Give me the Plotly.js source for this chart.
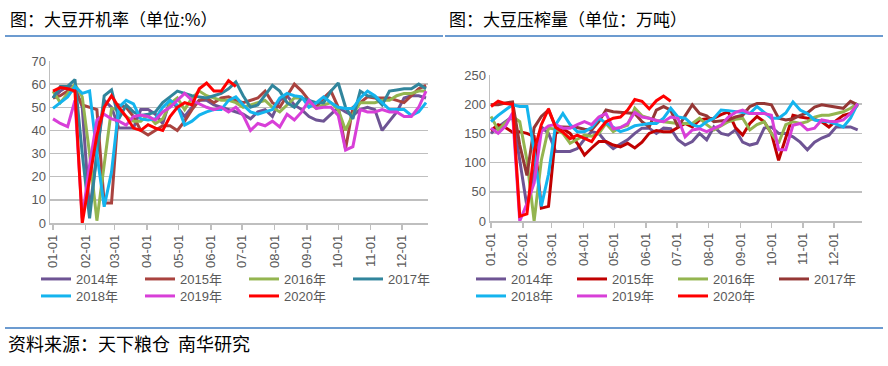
<!DOCTYPE html>
<html>
<head>
<meta charset="utf-8">
<script src="https://cdn.plot.ly/plotly-3.0.1.min.js"></script>
<style>html,body{margin:0;padding:0;background:#fff;}#chart{width:888px;height:366px;}</style>
</head>
<body>
<div id="chart"></div>
<script>
// ---------- DATA ----------
const seriesNames = ['2014年','2015年','2016年','2017年','2018年','2019年','2020年'];
const monthTicks = ['01-01','02-01','03-01','04-01','05-01','06-01','07-01','08-01','09-01','10-01','11-01','12-01'];

// 大豆开机率 (%) weekly
const rate2014 = [54,57,59,59,50,5,30,53,50,41,41,41,49,49,47,43,53,50,46,50,53,53,51,50,49,48,47,45,48,49,46,53,55,51,49,46,44.5,44,47,50,48,46.5,49,50,49,40,44,48,54,55,55,54];
const rate2015 = [54,55,57,57,51,50,49,8.6,8.6,51,50,46,40,38,40,42,42,40,44,49,53,54,52,54,54.5,53,52,53,54,57,52,50,55,60,57,53,50,54,57,50,32,50,52,54.5,54,54,54,53,52,55,58,59.5];
const rate2016 = [57,52,56,60,54.5,30,1,25,49.5,49,46,44,44,46.6,43,45,51.5,54,49,54,57,55,54,53,53,52,50,51,52,53,50,48,51,54,54,52,49.5,51,52,49,40,47,52,52,52,53,53,55,56,56,57,57];
const rate2017 = [54,59,59,62,30,2,30,55,57.5,45,51,48,46.5,47,48,52,54.5,57,56,55,54.5,54,55,56,58,61,55,50,51,55,59.5,57,52,50,54,53,52,52,57,60.5,50,45,57,55,54.5,51,57,57.5,58,58,60,58];
const rate2018 = [49.5,52,54.5,59,56,57,30,7,22,50,53,51.5,45,44.5,45,50,53,51,42.3,44,46.6,48,49,49,53,54.5,51,48,47,48,49,54,56,55,54.5,50,52,54.5,52,50,49.5,49.5,54,57,55,52,49,49,49,46.5,48,52];
const rate2019 = [45,43,41.6,53,2,25,44.5,47,45,44,42.3,46,46.6,46,44.5,48,50,53,56,53,51.6,50,49,50,48,50,46.5,40,43,42,44,41.5,47,44.5,48,53,49.5,50,50,46.5,31.5,33,49,48,48,49,48,48,46,46,50,57];
const rate2020 = [57,58.5,58,57,0,20,38,50,55,50,46,41,40,42.5,41,40,46,50,52,51,58,60.5,57,57,61.5,59];

// 大豆压榨量 (万吨) weekly
const crush2014 = [150,161,170,179,104,25,82,161,150,119,119,119,124,140,153,150,135,124,132,139,150,159,159,150,159,158,139,130,136,150,139,161,150,147,156,135,130,133,159,161,150,150,144,135,122,135,142,147,161,161,161,156];
const crush2015 = [155,165,160,152,153,150,145,22,25,150,158,150,133,113,125,136,136,130,127,133,125,135,150,155,153,153,160,167,161,173,175,176,182,187,160,147,167,179,170,150,104,144,181,178,176,174,170,161,172,181,184,199];
const crush2016 = [179,156,168,179,170,104,0,104,159,157,150,133,140,147,145,150,167,153,160,164,193,180,176,172,170,168,167,167,167,176,165,156,163,170,174,176,156,165,170,150,133,165,170,167,170,178,181,181,184,187,193,201];
const crush2017 = [199,199,202,204,130,78,160,179,190,161,161,161,160,157,156,170,190,187,186,184,184,170,161,190,196,190,161,180,199,184,180,170,172,173,178,181,196,201,201,199,176,173,175,181,185,195,199,197,196,193,205,199];
const crush2018 = [170,181,190,199,196,196,120,25,80,165,184,165,153,153,160,176,168,161,153,157,163,165,167,167,176,193,178,176,165,161,170,176,190,189,187,185,184,196,186,176,176,185,204,190,184,173,171,170,166,161,176,201];
const crush2019 = [159,150,162,185,0,30,65,153,163,165,159,159,165,170,165,178,184,158,160,167,186,178,176,172,170,178,176,144,156,158,153,159,164,178,186,190,184,184,184,181,122,122,164,167,156,159,173,171,170,173,184,201];
const crush2020 = [196,205,201,200,8,12,120,165,192,160,152,141,147,142,136,155,170,176,178,190,208,205,192,206,214,205];

// week dates (category positions on a date axis, reference year)
const weeks = [];
for (let i = 0; i < 52; i++) {
  const d = new Date(Date.UTC(2019, 0, 1 + 7 * i));
  weeks.push(d.toISOString().slice(0, 10));
}
const tickVals = monthTicks.map(t => '2019-' + t);

// ---------- STYLE ----------
const leftColors  = ['#6E5494','#A9433F','#94B550','#31859C','#14B4EE','#D83FD8','#FF0000'];
const rightColors = ['#6E5494','#C00000','#94B550','#953735','#14B4EE','#D83FD8','#FF0000'];
const rateData  = [rate2014, rate2015, rate2016, rate2017, rate2018, rate2019, rate2020];
const crushData = [crush2014, crush2015, crush2016, crush2017, crush2018, crush2019, crush2020];

const traces = [];
rateData.forEach((vals, i) => {
  traces.push({
    type: 'scatter', mode: 'lines', name: seriesNames[i],
    x: weeks.slice(0, vals.length), y: vals,
    xaxis: 'x', yaxis: 'y',
    line: {color: leftColors[i], width: 3},
    legend: i < 4 ? 'legend' : 'legend2',
    hoverinfo: 'skip'
  });
});
crushData.forEach((vals, i) => {
  traces.push({
    type: 'scatter', mode: 'lines', name: seriesNames[i],
    x: weeks.slice(0, vals.length), y: vals,
    xaxis: 'x2', yaxis: 'y2',
    line: {color: rightColors[i], width: 3},
    legend: i < 4 ? 'legend3' : 'legend4',
    hoverinfo: 'skip'
  });
});

const FONT = 'Liberation Sans, Noto Sans CJK SC, sans-serif';
const tickFont = {family: FONT, size: 13, color: '#595959'};
const W = 888, H = 366;
const px = v => v / W, py = v => 1 - v / H;

function xAx(domain, range, anchor) {
  return {
    domain: domain, type: 'date', range: range, anchor: anchor,
    tickmode: 'array', tickvals: tickVals, ticktext: monthTicks,
    tickangle: -90, showgrid: false, zeroline: false,
    showline: true, linecolor: '#BFBFBF', linewidth: 1.5,
    ticks: 'outside', ticklen: 5, tickcolor: '#BFBFBF', tickwidth: 1.5,
    tickfont: tickFont, fixedrange: true
  };
}
function yAx(domain, range, dtick, anchor) {
  return {
    domain: domain, range: range, dtick: dtick, anchor: anchor,
    showgrid: true, gridcolor: '#BFBFBF', gridwidth: 1.5, zeroline: false,
    showline: true, linecolor: '#BFBFBF', linewidth: 1.5,
    ticks: '', tickfont: tickFont, fixedrange: true
  };
}
function leg(x, yc, ew) {
  return {
    orientation: 'h', x: px(x), xanchor: 'left', y: py(yc), yanchor: 'middle',
    font: {family: FONT, size: 13, color: '#595959'},
    bgcolor: 'rgba(0,0,0,0)', borderwidth: 0,
    entrywidth: ew, entrywidthmode: 'pixels', traceorder: 'normal',
    itemclick: false, itemdoubleclick: false
  };
}

const layout = {
  width: W, height: H,
  margin: {l: 0, r: 0, t: 0, b: 0, pad: 0},
  paper_bgcolor: '#ffffff', plot_bgcolor: '#ffffff',
  showlegend: true,
  xaxis: xAx([px(50), px(428)], ['2018-12-29 03:00', '2019-12-25 21:30'], 'y'),
  yaxis: yAx([1 - 223 / H, 1 - 61 / H], [0, 70], 10, 'x'),
  xaxis2: xAx([px(490), px(862)], ['2018-12-31 00:45', '2019-12-28 05:00'], 'y2'),
  yaxis2: yAx([1 - 221 / H, 1 - 75 / H], [0, 250], 50, 'x2'),
  legend: leg(36, 279, 59),
  legend2: leg(36, 296, 59),
  legend3: leg(471, 279, 56),
  legend4: leg(471, 296, 56),
  annotations: [
    {xref: 'paper', yref: 'paper', x: px(8), y: py(18), xanchor: 'left', yanchor: 'middle',
     text: '图：大豆开机率（单位:%）', showarrow: false,
     font: {family: 'Noto Sans CJK SC', size: 17, color: '#000000'}},
    {xref: 'paper', yref: 'paper', x: px(447), y: py(18), xanchor: 'left', yanchor: 'middle',
     text: '图：大豆压榨量（单位：万吨）', showarrow: false,
     font: {family: 'Noto Sans CJK SC', size: 17, color: '#000000'}},
    {xref: 'paper', yref: 'paper', x: px(6), y: py(343), xanchor: 'left', yanchor: 'middle',
     text: '资料来源：天下粮仓  南华研究', showarrow: false,
     font: {family: 'Noto Sans CJK SC', size: 18, color: '#000000'}}
  ],
  shapes: [
    {type: 'line', xref: 'paper', yref: 'paper', x0: px(5), x1: px(443), y0: py(36), y1: py(36),
     line: {color: '#6C9BD0', width: 2}},
    {type: 'line', xref: 'paper', yref: 'paper', x0: px(445), x1: px(883), y0: py(36), y1: py(36),
     line: {color: '#6C9BD0', width: 2}},
    {type: 'line', xref: 'paper', yref: 'paper', x0: px(5), x1: px(883), y0: py(328), y1: py(328),
     line: {color: '#6C9BD0', width: 2}}
  ]
};

Plotly.newPlot('chart', traces, layout, {displayModeBar: false, staticPlot: true});
</script>
</body>
</html>
